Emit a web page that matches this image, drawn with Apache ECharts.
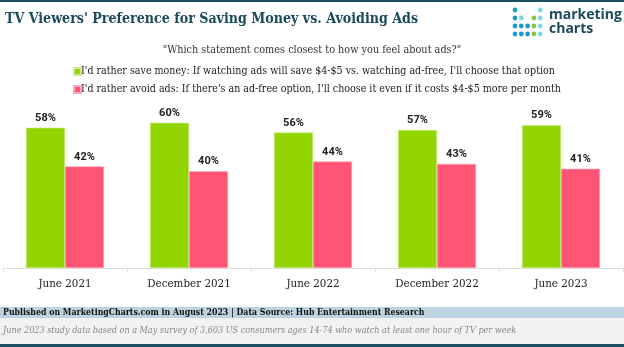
<!DOCTYPE html>
<html>
<head>
<meta charset="utf-8">
<script src="https://cdn.jsdelivr.net/npm/echarts@6/dist/echarts.min.js"></script>
<style>html,body{margin:0;padding:0;background:#fff}#c{width:624px;height:347px}</style>
</head>
<body>
<div id="c"></div>
<script>
const categories = ['June 2021', 'December 2021', 'June 2022', 'December 2022', 'June 2023'];
const saveMoney = [58, 60, 56, 57, 59];
const avoidAds = [42, 40, 44, 43, 41];
const seriesNames = [
  "I'd rather save money: If watching ads will save $4-$5 vs. watching ad-free, I'll choose that option",
  "I'd rather avoid ads: If there's an ad-free option, I'll choose it even if it costs $4-$5 more per month"
];
const titleText = "TV Viewers' Preference for Saving Money vs. Avoiding Ads";
const subtitleText = '"Which statement comes closest to how you feel about ads?"';
const footer1 = 'Published on MarketingCharts.com in August 2023 | Data Source: Hub Entertainment Research';
const footer2 = 'June 2023 study data based on a May survey of 3,603 US consumers ages 14-74 who watch at least one hour of TV per week';

const SERIF = '"DejaVu Serif", serif';
const SERIF_C = '"DejaVu Serif Condensed", "DejaVu Serif", serif';
const TEAL = '#1b4a5e';

// logo dots: [col,row,color]
const DT = '#1b9cc4', LC = '#7fd6df', GR = '#8cc63f';
const dots = [
  [0,0,DT],[4,0,LC],
  [0,1,DT],[1,1,LC],[3,1,GR],[4,1,LC],
  [0,2,DT],[1,2,DT],[2,2,DT],[3,2,GR],[4,2,LC],
  [0,3,DT],[1,3,DT],[2,3,DT],[3,3,GR],[4,3,LC]
];
const logoGraphics = dots.map(d => ({
  type: 'circle', shape: {cx: 515 + d[0]*6.3, cy: 10 + d[1]*8, r: 2.4},
  style: {fill: d[2]}
}));

const chart = echarts.init(document.getElementById('c'), null, {renderer: 'canvas'});
chart.setOption({
  animation: false,
  backgroundColor: '#fff',
  title: [
    {text: subtitleText, left: 'center', top: 40,
     textStyle: {fontFamily: SERIF_C, fontWeight: 'normal', fontSize: 10.8, color: '#333'}}
  ],
  legend: {
    orient: 'vertical', left: 68, top: 61, itemGap: 7,
    icon: 'rect', itemWidth: 7, itemHeight: 7,
    textStyle: {fontFamily: SERIF_C, fontSize: 10.6, color: '#222', padding: [0,0,0,-5]},
    data: seriesNames
  },
  grid: {left: 3, right: 1, top: 26, bottom: 79, containLabel: false},
  xAxis: {
    type: 'category', data: categories,
    axisLine: {lineStyle: {color: '#dddddd'}},
    axisTick: {show: true, length: 4, lineStyle: {color: '#dddddd'}},
    axisLabel: {fontFamily: SERIF_C, fontSize: 11.5, color: '#222', margin: 10}
  },
  yAxis: {type: 'value', min: 0, max: 100, show: false, splitLine: {show: false}},
  series: [
    {name: seriesNames[0], type: 'bar', data: saveMoney, barWidth: 39, barGap: '0%',
     itemStyle: {color: '#93d500', borderColor: '#c8ee88', borderWidth: 0.6},
     label: {show: true, position: 'top', distance: 4, formatter: '{c}%',
       fontFamily: 'Roboto, sans-serif', fontWeight: 'bold', fontSize: 11, color: '#222'}},
    {name: seriesNames[1], type: 'bar', data: avoidAds, barWidth: 39,
     itemStyle: {color: '#ff5574', borderColor: '#ffaabb', borderWidth: 0.6},
     label: {show: true, position: 'top', distance: 4, formatter: '{c}%',
       fontFamily: 'Roboto, sans-serif', fontWeight: 'bold', fontSize: 11, color: '#222'}}
  ],
  graphic: [
    {type: 'rect', shape: {x: 0, y: 0, width: 624, height: 2}, style: {fill: '#1d4f63'}},
    {type: 'text', left: 5, top: 12, style: {text: titleText, font: 'bold condensed 14.1px "DejaVu Serif"', fill: TEAL}},
    {type: 'rect', shape: {x: 0, y: 307, width: 624, height: 11}, style: {fill: '#bcd3e0'}},
    {type: 'rect', shape: {x: 0, y: 318, width: 624, height: 26}, style: {fill: '#f2f2f2'}},
    {type: 'rect', shape: {x: 0, y: 344, width: 624, height: 3}, style: {fill: '#1d4f63'}},
    {type: 'text', left: 3, top: 308, style: {text: footer1, font: 'bold condensed 8.7px "DejaVu Serif"', fill: '#111'}},
    {type: 'text', left: 3, top: 326, style: {text: footer2, font: 'italic condensed 9px "DejaVu Serif"', fill: '#888'}},
    {type: 'text', left: 549, top: 8, style: {text: 'marketing', font: 'bold 14px "Open Sans", sans-serif', fill: TEAL}},
    {type: 'text', left: 549, top: 22, style: {text: 'charts', font: 'bold 14px "Open Sans", sans-serif', fill: TEAL}},
    ...logoGraphics
  ]
});
</script>
</body>
</html>
